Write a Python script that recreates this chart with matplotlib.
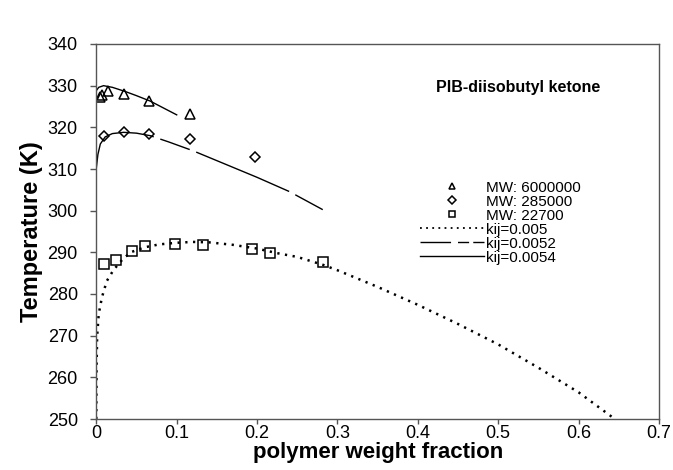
import matplotlib
matplotlib.use("Agg")
import matplotlib.pyplot as plt
from matplotlib.lines import Line2D

plt.rcParams['font.family'] = ['Liberation Sans', 'DejaVu Sans']

# ---- data ----
x_mw6000000 = [0.004, 0.007, 0.015, 0.035, 0.066, 0.116]
t_mw6000000 = [327.3, 327.8, 328.6, 327.9, 326.4, 323.2]

x_mw285000 = [0.010, 0.035, 0.066, 0.116, 0.197]
t_mw285000 = [318.0, 319.0, 318.5, 317.1, 312.9]

x_mw22700 = [0.009, 0.024, 0.044, 0.060, 0.098, 0.133, 0.194, 0.216, 0.282]
t_mw22700 = [287.1, 288.1, 290.3, 291.5, 292.0, 291.8, 290.7, 289.8, 287.8]

x_k0054 = [0.0, 0.003, 0.009, 0.02, 0.036, 0.05, 0.067, 0.08, 0.1]
t_k0054 = [328.8, 329.6, 330.0, 329.6, 328.6, 327.6, 326.3, 325.0, 323.0]

x_k0052 = [0.0, 0.002, 0.005, 0.011, 0.02, 0.034, 0.05, 0.067, 0.09, 0.12, 0.16, 0.2, 0.24, 0.284]
t_k0052 = [310.2, 313.5, 316.0, 317.7, 318.5, 318.8, 318.6, 318.0, 316.5, 314.4, 311.2, 308.0, 304.6, 300.0]

x_k005 = [0.0, 0.0003, 0.001, 0.003, 0.007, 0.013, 0.0215, 0.034, 0.044, 0.06, 0.078, 0.1,
          0.12, 0.14, 0.17, 0.2, 0.225, 0.25, 0.282, 0.3, 0.35, 0.4, 0.45, 0.5, 0.55, 0.6, 0.645]
t_k005 = [250.0, 262.0, 269.7, 275.2, 279.2, 283.1, 285.8, 288.6, 290.1, 291.2, 291.9, 292.3,
          292.5, 292.4, 291.8, 290.9, 289.8, 288.9, 287.0, 285.7, 281.7, 277.4, 272.8, 267.9, 262.3, 256.4, 250.0]

x_ticks = [0, 0.1, 0.2, 0.3, 0.4, 0.5, 0.6, 0.7]
x_ticklabels = ['0', '0.1', '0.2', '0.3', '0.4', '0.5', '0.6', '0.7']
y_ticks = [250, 260, 270, 280, 290, 300, 310, 320, 330, 340]

# ---- figure ----
fig = plt.figure(figsize=(6.73, 4.70), dpi=100)
L, R, T, B = 96.3, 659.0, 44.0, 419.0
ax = fig.add_axes([L / 673, 1 - B / 470, (R - L) / 673, (B - T) / 470])

ax.plot(x_k005, t_k005, color='black', lw=1.8, linestyle=(0, (0.9, 2.2)))
ax.plot(x_k0052, t_k0052, color='black', lw=1.0, linestyle=(13, (72.7, 5, 22.5, 5)))
ax.plot(x_k0054, t_k0054, color='black', lw=1.0, linestyle='-')

mk = dict(linestyle='none', markerfacecolor='none', markeredgecolor='black', markeredgewidth=1.1)
ax.plot(x_mw6000000, t_mw6000000, marker='^', markersize=7, **mk)
ax.plot(x_mw285000, t_mw285000, marker='D', markersize=5.5, **mk)
ax.plot(x_mw22700, t_mw22700, marker='s', markersize=7, **mk)

ax.set_xlim(0, 0.7)
ax.set_ylim(250, 340)
ax.set_xticks(x_ticks)
ax.set_xticklabels(x_ticklabels)
ax.set_yticks(y_ticks)
ax.tick_params(direction='out', width=1, colors='#555555', labelcolor='black', labelsize=13)
ax.tick_params(axis='y', length=4.3, pad=9)
ax.tick_params(axis='x', length=3.6, pad=0.5)
for s in ax.spines.values():
    s.set_color('#555555')
    s.set_linewidth(1.0)

ax.set_xlabel('polymer weight fraction', fontsize=16, fontweight='bold', labelpad=0)
ax.set_ylabel('Temperature (K)', fontsize=17, fontweight='bold', labelpad=3)

ax.text(0.750, 0.885, 'PIB-diisobutyl ketone', transform=ax.transAxes, ha='center', va='center',
        fontsize=11.5, fontweight='bold')

handles = [
    Line2D([], [], marker='^', markersize=5, **mk),
    Line2D([], [], marker='D', markersize=4, **mk),
    Line2D([], [], marker='s', markersize=5, **mk),
    Line2D([], [], color='black', lw=1.3, linestyle=(0, (1.0, 2.4))),
    Line2D([], [], color='black', lw=1.0, linestyle=(0, (22, 5, 8, 3))),
    Line2D([], [], color='black', lw=1.0, linestyle='-'),
]
labels = ['MW: 6000000', 'MW: 285000', 'MW: 22700', 'kij=0.005', 'kij=0.0052', 'kij=0.0054']
ax.legend(handles, labels, loc='upper left', bbox_to_anchor=(0.561, 0.656), frameon=False,
          fontsize=11, handlelength=4.2, handletextpad=0.15, labelspacing=0.0, borderpad=0)

fig.savefig('out.png', dpi=100)
